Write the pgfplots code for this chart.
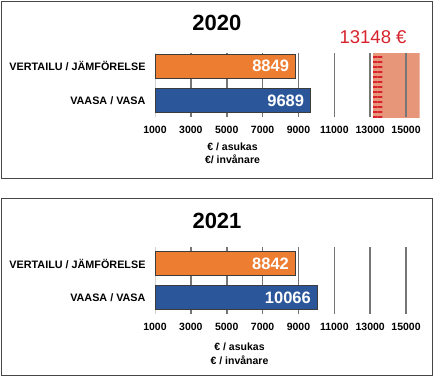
\documentclass[border=0pt]{standalone}
\usepackage{fontspec}
\setmainfont{Liberation Sans}
\usepackage{pgfplots}
\pgfplotsset{compat=1.18}
\usetikzlibrary{patterns.meta}
\definecolor{cOrange}{RGB}{237,125,49}
\definecolor{cBlue}{RGB}{43,87,154}
\definecolor{cShade}{RGB}{232,150,122}
\definecolor{cRed}{RGB}{215,35,45}
\definecolor{cGrid}{RGB}{118,118,118}
\definecolor{cFrame}{RGB}{70,70,70}
\definecolor{cEdge}{RGB}{60,60,60}

\pgfplotsset{
  panel/.style={
    scale only axis, width=264.5bp,
    bar width=24bp,
    xmin=1000, xmax=15750,
    axis line style={draw=none},
    major tick length=0pt,
    xtick={3000,5000,...,15000},
    extra x ticks={1000},
    extra x tick style={major grid style={draw=gray!35, line width=0.8bp}},
    xmajorgrids, grid style={draw=cGrid, line width=1.6bp},
    ytick={0,1},
    yticklabels={VAASA / VASA, VERTAILU / JÄMFÖRELSE},
    yticklabel style={font=\bfseries\fontsize{10.8bp}{12bp}\selectfont, xshift=-6bp},
    xticklabel style={font=\bfseries\fontsize{10.5bp}{12bp}\selectfont, yshift=-6bp},
    /pgf/number format/assume math mode=true,
    /pgf/number format/set thousands separator={},
    scaled x ticks=false,
    clip mode=individual,
    set layers=standard,
  },
  mybar/.style={xbar, bar shift=0pt, draw=cEdge, line width=0.8bp,
    nodes near coords, point meta=x,
    every node near coord/.append style={anchor=east, xshift=-3bp, text=white,
      font=\bfseries\fontsize{16.5bp}{18bp}\selectfont}},
}

\begin{document}
\begin{tikzpicture}
\path (0bp,0bp) rectangle (435bp,-377bp);
\draw[cFrame, line width=1.2bp] (1.2bp,-1.2bp) rectangle (432.8bp,-178.8bp);
\draw[cFrame, line width=1.2bp] (1.8bp,-198.5bp) rectangle (432.8bp,-375.6bp);

\node[font=\bfseries\fontsize{22bp}{24bp}\selectfont] at (216.8bp,-23.3bp) {2020};
\node[font=\bfseries\fontsize{22bp}{24bp}\selectfont] at (217bp,-220.5bp) {2021};

\begin{axis}[panel, at={(155bp,-117bp)}, anchor=south west, height=64bp,
  ymin=-0.49, ymax=1.39]
\addplot[on layer=axis background, fill=cShade, draw=none, forget plot]
  coordinates {(13148,-0.52) (15750,-0.52) (15750,1.5) (13148,1.5)};
\addplot[on layer=axis background, draw=none, forget plot,
  pattern={Lines[angle=0,distance=5bp,line width=1.3bp]}, pattern color=cRed]
  coordinates {(13148,-0.52) (13680,-0.52) (13680,1.5) (13148,1.5)};
\addplot[mybar, fill=cOrange] coordinates {(8849,1)};
\addplot[mybar, fill=cBlue] coordinates {(9689,0)};
\node[text=cRed, font=\fontsize{18.5bp}{20bp}\selectfont, yshift=16.3bp]
  at (axis cs:13160,1.39) {13148 €};
\end{axis}

\begin{axis}[panel, at={(155bp,-314bp)}, anchor=south west, height=66.7bp,
  ymin=-0.49, ymax=1.49]
\addplot[mybar, fill=cOrange] coordinates {(8842,1)};
\addplot[mybar, fill=cBlue] coordinates {(10066,0)};
\end{axis}

\node[align=center, font=\bfseries\fontsize{10.5bp}{13.5bp}\selectfont] at (232.5bp,-153.5bp) {€ / asukas\\€/ invånare};
\node[align=center, font=\bfseries\fontsize{10.5bp}{14bp}\selectfont] at (239.5bp,-353.7bp) {€ / asukas\\€ / invånare};
\end{tikzpicture}
\end{document}
